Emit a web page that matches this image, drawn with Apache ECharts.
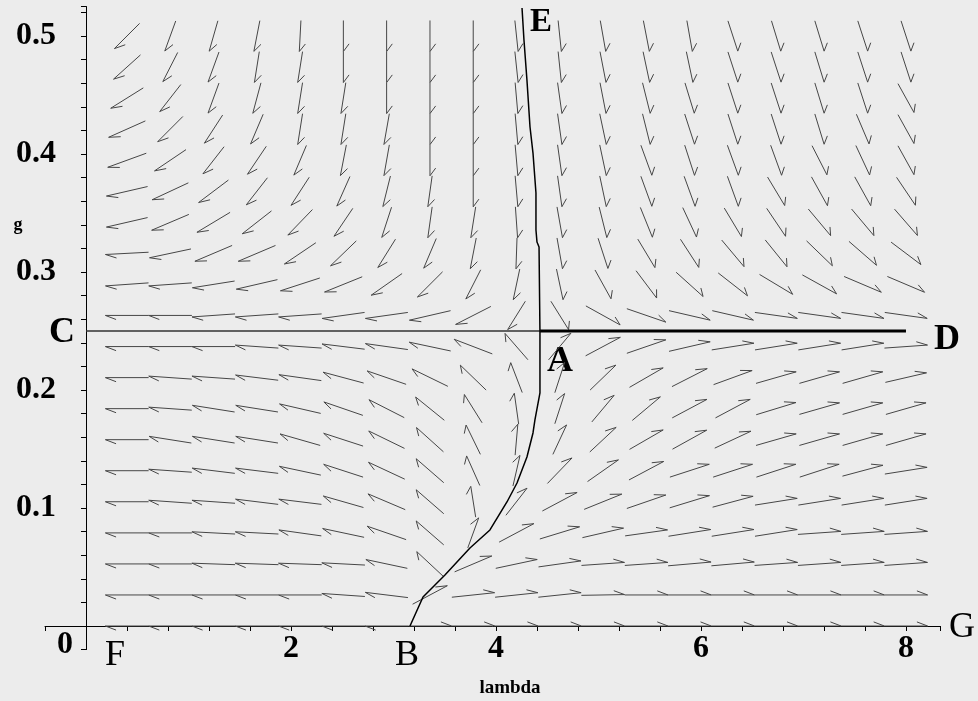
<!DOCTYPE html>
<html><head><meta charset="utf-8">
<script src="https://cdn.jsdelivr.net/npm/echarts@6/dist/echarts.min.js"></script>
<style>html,body{margin:0;padding:0;background:#ececec}#c{width:978px;height:701px}</style>
</head><body><div id="c"></div>
<script>
// grid of the direction field (lambda columns, g rows)
const lambdaGrid = [0.4, 0.822, 1.244, 1.667, 2.089, 2.511, 2.933, 3.356, 3.778, 4.2, 4.622, 5.044, 5.467, 5.889, 6.311, 6.733, 7.156, 7.578, 8.0];
const gGrid = [0, 0.0263, 0.0526, 0.0789, 0.1053, 0.1316, 0.1579, 0.1842, 0.2105, 0.2368, 0.2632, 0.2895, 0.3158, 0.3421, 0.3684, 0.3947, 0.4211, 0.4474, 0.4737, 0.5];
// arrow direction (degrees, as seen on the picture; 0 = right, 90 = up), one row per g value
const arrowAngles = [
  [180,180,180,180,180,180,180,0,0,0,0,0,0,0,0,0,0,0,0],
  [180,180,180,180,180,176,173,28,6,6,6,1,0,0,0,0,0,0,0],
  [180,180,178,178,178,177,168,137,23,12,8,4,4,5,5,4,4,4,4],
  [180,180,177,177,172,168,161,139,70,28,17,13,8,9,9,9,4,4,4],
  [180,176,176,173,173,164,157,139,99,52,28,22,19,17,15,9,9,9,9],
  [180,176,173,173,168,162,155,139,114,77,46,35,28,18,18,18,18,15,9],
  [180,171,171,171,164,162,154,138,116,85,65,43,30,29,25,16,16,16,16],
  [180,176,171,171,167,161,153,141,122,98,72,50,40,28,28,17,16,16,16],
  [180,176,176,173,172,165,161,154,136,111,72,44,30,27,20,16,16,16,13],
  [180,180,180,176,176,173,172,168,159,131,50,28,19,13,9,9,9,9,4],
  [180,180,-176,-176,-176,-172,-172,-167,-153,-122,-58,-29,-19,-13,-13,-8,-8,-8,-8],
  [-176,-176,-171,-167,-162,-158,-145,-135,-117,-102,-78,-61,-53,-42,-38,-31,-29,-23,-23],
  [-177,-168,-157,-157,-146,-136,-122,-113,-101,-92,-80,-72,-59,-57,-50,-51,-44,-41,-37],
  [-167,-157,-149,-142,-134,-124,-108,-98,-99,-86,-80,-76,-68,-65,-59,-56,-50,-50,-49],
  [-167,-155,-143,-128,-123,-114,-104,-98,-90,-85,-82,-78,-70,-70,-70,-59,-61,-61,-56],
  [-160,-146,-128,-124,-113,-101,-100,-90,-90,-85,-82,-78,-70,-72,-70,-70,-63,-65,-61],
  [-156,-135,-123,-113,-99,-99,-100,-90,-90,-85,-82,-78,-76,-72,-72,-72,-73,-67,-61],
  [-148,-128,-110,-105,-99,-99,-90,-90,-90,-85,-82,-79,-76,-73,-72,-72,-73,-72,-61],
  [-138,-117,-110,-99,-99,-90,-90,-90,-90,-84,-84,-79,-78,-78,-72,-72,-73,-72,-72],
  [-135,-110,-106,-101,-93,-90,-90,-90,-90,-84,-84,-80,-79,-80,-72,-73,-73,-72,-72]
];
// trajectory from B up through A to E
const curveBE = [[3.161,0],[3.288,0.0246],[3.502,0.0432],[3.746,0.0661],[3.941,0.0814],[4.107,0.1051],[4.205,0.1212],[4.302,0.1432],[4.361,0.1636],[4.380,0.1746],[4.429,0.1975],[4.429,0.2229],[4.429,0.2483],[4.420,0.3212],[4.400,0.3254],[4.390,0.3356],[4.390,0.3669],[4.361,0.4008],[4.332,0.4229],[4.302,0.4627],[4.273,0.4966],[4.254,0.5237]];
const lineCA = [[0,0.25],[4.43,0.25]];
const lineAD = [[4.43,0.25],[8.0,0.25]];
const xTickLabels = [2,4,6,8];
const yTickLabels = [0.1,0.2,0.3,0.4,0.5];

const fieldData = [];
gGrid.forEach((g, r) => lambdaGrid.forEach((l, c) => fieldData.push([l, g, arrowAngles[r][c]])));
const cw = lambdaGrid[1] - lambdaGrid[0];
const ch = gGrid[1] - gGrid[0];

function renderArrow(params, api) {
  const lam = api.value(0), g = api.value(1), ang = api.value(2) * Math.PI / 180;
  const c = api.coord([lam, g]);
  const cell = api.size([cw, ch]);
  let a = Math.cos(ang) / cell[0], b = Math.sin(ang) / cell[1];
  const n = Math.hypot(a, b); a /= n; b /= n;
  const vx = a * cell[0], vy = -b * cell[1];
  const x1 = c[0] - vx / 2, y1 = c[1] - vy / 2, x2 = c[0] + vx / 2, y2 = c[1] + vy / 2;
  const psi = -28 * Math.PI / 180;
  const ra = -a, rb = -b;
  const ba = (ra * Math.cos(psi) - rb * Math.sin(psi)) * 0.28;
  const bb = (ra * Math.sin(psi) + rb * Math.cos(psi)) * 0.28;
  const x3 = x2 + ba * cell[0], y3 = y2 - bb * cell[1];
  return {type: 'polyline', shape: {points: [[x1, y1], [x2, y2], [x3, y3]]},
    style: {stroke: '#464646', lineWidth: 1, fill: null}};
}

const serif = '"Liberation Serif", "DejaVu Serif", serif';
const chart = echarts.init(document.getElementById('c'));
chart.setOption({
  animation: false,
  backgroundColor: '#ececec',
  grid: {left: 45, right: 38.2, top: 6.5, bottom: 51.4, containLabel: false, outerBoundsMode: 'none'},
  xAxis: {type: 'value', min: -0.4, max: 8.33, interval: 0.4,
    axisLine: {onZero: true, lineStyle: {color: '#000', width: 1}},
    axisTick: {show: true, length: 5, lineStyle: {color: '#000'}},
    splitLine: {show: false},
    axisLabel: {margin: -17, color: '#000', fontFamily: serif, fontWeight: 'bold', fontSize: 32,
      formatter: v => { const m = xTickLabels.find(t => Math.abs(t - v) < 1e-6); return m === undefined ? '' : String(m); }}
  },
  yAxis: {type: 'value', min: -0.02, max: 0.525, interval: 0.02,
    axisLine: {onZero: true, lineStyle: {color: '#000', width: 1}},
    axisTick: {show: true, length: 5, lineStyle: {color: '#000'}},
    splitLine: {show: false},
    axisLabel: {margin: -11, color: '#000', fontFamily: serif, fontWeight: 'bold', fontSize: 32,
      formatter: v => { const m = yTickLabels.find(t => Math.abs(t - v) < 1e-6); return m === undefined ? '' : m.toFixed(1); }}
  },
  series: [
    {type: 'custom', name: 'field', renderItem: renderArrow, data: fieldData, clip: false, z: 2},
    {type: 'line', name: 'CA', data: lineCA, showSymbol: false, lineStyle: {color: '#333', width: 1.5}, z: 3},
    {type: 'line', name: 'AD', data: lineAD, showSymbol: false, lineStyle: {color: '#000', width: 3}, z: 3},
    {type: 'line', name: 'BE', data: curveBE, showSymbol: false, lineStyle: {color: '#000', width: 1.5}, z: 4}
  ],
  graphic: [
    {type: 'text', x: 62, y: 333, style: {text: 'C', font: 'bold 36px ' + serif, fill: '#000', textAlign: 'center', textVerticalAlign: 'middle'}},
    {type: 'text', x: 947, y: 340, style: {text: 'D', font: 'bold 36px ' + serif, fill: '#000', textAlign: 'center', textVerticalAlign: 'middle'}},
    {type: 'text', x: 560, y: 362, style: {text: 'A', font: 'bold 36px ' + serif, fill: '#000', textAlign: 'center', textVerticalAlign: 'middle'}},
    {type: 'text', x: 541, y: 22, style: {text: 'E', font: 'bold 33px ' + serif, fill: '#000', textAlign: 'center', textVerticalAlign: 'middle'}},
    {type: 'text', x: 407, y: 656, style: {text: 'B', font: '36px ' + serif, fill: '#000', textAlign: 'center', textVerticalAlign: 'middle'}},
    {type: 'text', x: 115, y: 656, style: {text: 'F', font: '36px ' + serif, fill: '#000', textAlign: 'center', textVerticalAlign: 'middle'}},
    {type: 'text', x: 962, y: 628, style: {text: 'G', font: '36px ' + serif, fill: '#000', textAlign: 'center', textVerticalAlign: 'middle'}},
    {type: 'text', x: 65, y: 645, style: {text: '0', font: 'bold 32px ' + serif, fill: '#000', textAlign: 'center', textVerticalAlign: 'middle'}},
    {type: 'text', x: 18, y: 225, style: {text: 'g', font: 'bold 18px ' + serif, fill: '#000', textAlign: 'center', textVerticalAlign: 'middle'}},
    {type: 'text', x: 510, y: 688, style: {text: 'lambda', font: 'bold 19px ' + serif, fill: '#000', textAlign: 'center', textVerticalAlign: 'middle'}}
  ]
});
</script></body></html>
